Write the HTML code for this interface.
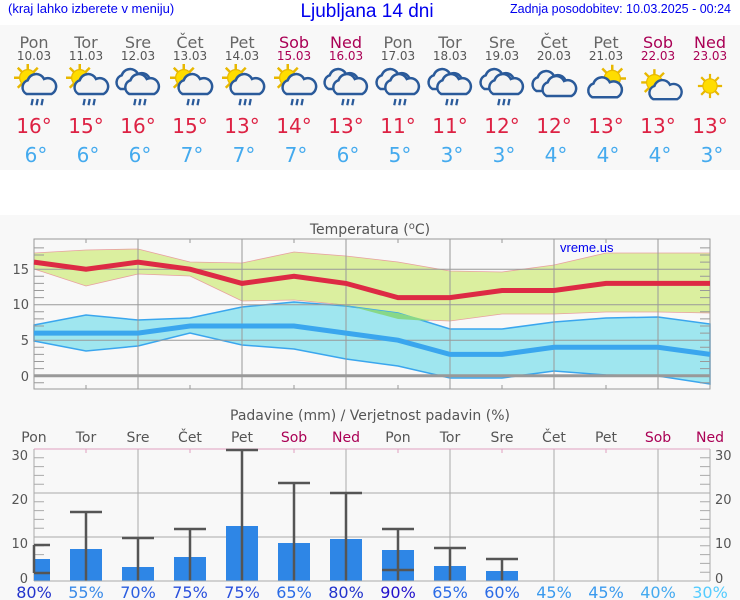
<!DOCTYPE html>
<html><head><meta charset="utf-8"><style>
body{margin:0;width:740px;height:600px;background:#f8f8f8;overflow:hidden;font-family:"DejaVu Sans","Liberation Sans",sans-serif}
svg{display:block}
</style></head><body>
<svg width="740" height="600" viewBox="0 0 740 600" xmlns="http://www.w3.org/2000/svg" font-family="DejaVu Sans, Liberation Sans, sans-serif">
<defs>
<g id="sun"><g stroke="#e8b800" stroke-width="2"><line x1="-11" y1="0" x2="11" y2="0"/><line x1="0" y1="-11" x2="0" y2="11"/><line x1="-8" y1="-8" x2="8" y2="8"/><line x1="-8" y1="8" x2="8" y2="-8"/></g><circle r="6.5" fill="#ffdd00" stroke="#e8b800"/></g>
<g id="cloud"><path d="M-10 6 a6 6 0 0 1 1-11 a7 7 0 0 1 13-1 a6 6 0 0 1 6 12 z" fill="#f4f4f4" stroke="#2a5a9a" stroke-width="2"/></g>
<g id="rain" stroke="#2a5a9a" stroke-width="1.8"><line x1="-3" y1="9" x2="-4" y2="14"/><line x1="1" y1="9" x2="0" y2="14"/><line x1="5" y1="9" x2="4" y2="14"/></g>
<g id="sunrain" transform="scale(1.25)"><use href="#sun" x="-5" y="-5"/><use href="#cloud" x="4" y="2"/><use href="#rain" x="2" y="3"/></g>
<g id="cloudrain" transform="scale(1.25)"><use href="#cloud" x="-4" y="-2"/><use href="#cloud" x="3" y="2"/><use href="#rain" x="1" y="3"/></g>
</defs>
<rect x="0" y="0" width="740" height="25" fill="#fff"/>
<rect x="0" y="170" width="740" height="45" fill="#fff"/>
<text x="8" y="13" font-family="Liberation Sans, sans-serif" font-size="13" fill="#0000ee">(kraj lahko izberete v meniju)</text>
<text x="367" y="17" font-family="Liberation Sans, sans-serif" font-size="19" fill="#0000ee" text-anchor="middle">Ljubljana 14 dni</text>
<text x="731" y="13" font-family="Liberation Sans, sans-serif" font-size="12.5" fill="#0000ee" text-anchor="end">Zadnja posodobitev: 10.03.2025 - 00:24</text>
<g font-size="16" fill="#666" text-anchor="middle">
<text x="34" y="48">Pon</text><text x="86" y="48">Tor</text><text x="138" y="48">Sre</text><text x="190" y="48">Čet</text><text x="242" y="48">Pet</text><text x="294" y="48" fill="#aa0055">Sob</text><text x="346" y="48" fill="#aa0055">Ned</text><text x="398" y="48">Pon</text><text x="450" y="48">Tor</text><text x="502" y="48">Sre</text><text x="554" y="48">Čet</text><text x="606" y="48">Pet</text><text x="658" y="48" fill="#aa0055">Sob</text><text x="710" y="48" fill="#aa0055">Ned</text>
</g>
<g font-size="12" fill="#555" text-anchor="middle">
<text x="34" y="60">10.03</text><text x="86" y="60">11.03</text><text x="138" y="60">12.03</text><text x="190" y="60">13.03</text><text x="242" y="60">14.03</text><text x="294" y="60" fill="#aa0055">15.03</text><text x="346" y="60" fill="#aa0055">16.03</text><text x="398" y="60">17.03</text><text x="450" y="60">18.03</text><text x="502" y="60">19.03</text><text x="554" y="60">20.03</text><text x="606" y="60">21.03</text><text x="658" y="60" fill="#aa0055">22.03</text><text x="710" y="60" fill="#aa0055">23.03</text>
</g>
<use href="#sunrain" x="34" y="84"/>
<use href="#sunrain" x="86" y="84"/>
<use href="#cloudrain" x="138" y="84"/>
<use href="#sunrain" x="190" y="84"/>
<use href="#sunrain" x="242" y="84"/>
<use href="#sunrain" x="294" y="84"/>
<use href="#cloudrain" x="346" y="84"/>
<use href="#cloudrain" x="398" y="84"/>
<use href="#cloudrain" x="450" y="84"/>
<use href="#cloudrain" x="502" y="84"/>
<g transform="translate(554,86) scale(1.25)"><use href="#cloud" x="-4" y="-2"/><use href="#cloud" x="4" y="2"/></g>
<g transform="translate(606,86) scale(1.25)"><use href="#sun" x="5" y="-6"/><use href="#cloud" x="-1" y="3"/></g>
<g transform="translate(658,86) scale(1.2)"><use href="#sun" x="-3" y="-3"/><use href="#cloud" x="6" y="5"/></g>
<g transform="translate(710,86) scale(1.1)"><use href="#sun"/></g>
<g font-size="20" fill="#dd2244" text-anchor="middle">
<text x="34" y="133">16°</text><text x="86" y="133">15°</text><text x="138" y="133">16°</text><text x="190" y="133">15°</text><text x="242" y="133">13°</text><text x="294" y="133">14°</text><text x="346" y="133">13°</text><text x="398" y="133">11°</text><text x="450" y="133">11°</text><text x="502" y="133">12°</text><text x="554" y="133">12°</text><text x="606" y="133">13°</text><text x="658" y="133">13°</text><text x="710" y="133">13°</text>
</g>
<g font-size="20" fill="#44aaee" text-anchor="middle">
<text x="36" y="162">6°</text><text x="88" y="162">6°</text><text x="140" y="162">6°</text><text x="192" y="162">7°</text><text x="244" y="162">7°</text><text x="296" y="162">7°</text><text x="348" y="162">6°</text><text x="400" y="162">5°</text><text x="452" y="162">3°</text><text x="504" y="162">3°</text><text x="556" y="162">4°</text><text x="608" y="162">4°</text><text x="660" y="162">4°</text><text x="712" y="162">3°</text>
</g>

<text x="370" y="234" font-size="14" fill="#555" text-anchor="middle">Temperatura (<tspan dy="-5" font-size="10">o</tspan><tspan dy="5">C)</tspan></text>
<polygon fill="#dbef9f" stroke="#e8a0a0" stroke-width="0.8" points="34,253 86,250 138,249 190,262 242,263 294,252 346,256 398,262 450,271 502,272 554,265 606,253 658,253 710,253 710,313 658,312 606,312 554,314 502,314 450,321 398,319 346,305 294,300 242,301 190,276 138,274 86,286 34,269"/>
<polygon fill="#9fe6ef" stroke="#3aa6ee" stroke-width="1.5" points="34,325 86,315 138,320 190,318 242,307 294,302 346,306 398,313 450,329 502,329 554,322 606,318 658,317 710,324 710,384 658,376 606,375 554,371 502,378 450,378 398,366 346,359 294,349 242,345 190,333 138,346 86,351 34,341"/>
<polygon fill="#88d888" points="330,303 346,306 398,313 430,321 398,319 346,305"/>
<g stroke="#999" stroke-width="1" fill="none">
<rect x="34" y="239" width="676" height="150"/>
<line x1="34" y1="269.2" x2="710" y2="269.2"/><line x1="34" y1="304.7" x2="710" y2="304.7"/><line x1="34" y1="340.2" x2="710" y2="340.2"/>
<line x1="138" y1="239" x2="138" y2="389"/><line x1="242" y1="239" x2="242" y2="389"/><line x1="346" y1="239" x2="346" y2="389"/><line x1="450" y1="239" x2="450" y2="389"/><line x1="554" y1="239" x2="554" y2="389"/><line x1="658" y1="239" x2="658" y2="389"/>
<path d="M86 239v4M190 239v4M294 239v4M398 239v4M502 239v4M606 239v4M86 389v-4M190 389v-4M294 389v-4M398 389v-4M502 389v-4M606 389v-4"/>
<path d="M34 382.8h10M34 368.6h10M34 361.5h10M34 354.4h10M34 347.3h10M34 333.1h10M34 326h10M34 318.9h10M34 311.8h10M34 297.6h10M34 290.5h10M34 283.4h10M34 276.3h10M34 262.1h10M34 255h10M34 247.9h10"/>
<path d="M710 382.8h-10M710 368.6h-10M710 361.5h-10M710 354.4h-10M710 347.3h-10M710 333.1h-10M710 326h-10M710 318.9h-10M710 311.8h-10M710 297.6h-10M710 290.5h-10M710 283.4h-10M710 276.3h-10M710 262.1h-10M710 255h-10M710 247.9h-10"/>
</g>
<line x1="34" y1="375.7" x2="710" y2="375.7" stroke="#999" stroke-width="3"/>
<polyline fill="none" stroke="#dd2a44" stroke-width="5" points="34,262.1 86,269.2 138,262.1 190,269.2 242,283.4 294,276.3 346,283.4 398,297.6 450,297.6 502,290.5 554,290.5 606,283.4 658,283.4 710,283.4"/>
<polyline fill="none" stroke="#3aa6ee" stroke-width="5" points="34,333.1 86,333.1 138,333.1 190,326 242,326 294,326 346,333.1 398,340.2 450,354.4 502,354.4 554,347.3 606,347.3 658,347.3 710,354.4"/>
<text x="560" y="252" font-family="Liberation Sans, sans-serif" font-size="13" fill="#0000ee">vreme.us</text>
<g font-size="13" fill="#555" text-anchor="end">
<text x="29" y="274">15</text><text x="29" y="309">10</text><text x="29" y="345">5</text><text x="29" y="381">0</text>
</g>

<text x="370" y="420" font-size="14" fill="#555" text-anchor="middle">Padavine (mm) / Verjetnost padavin (%)</text>
<g font-size="14" fill="#555" text-anchor="middle">
<text x="34" y="442">Pon</text><text x="86" y="442">Tor</text><text x="138" y="442">Sre</text><text x="190" y="442">Čet</text><text x="242" y="442">Pet</text><text x="294" y="442" fill="#aa0055">Sob</text><text x="346" y="442" fill="#aa0055">Ned</text><text x="398" y="442">Pon</text><text x="450" y="442">Tor</text><text x="502" y="442">Sre</text><text x="554" y="442">Čet</text><text x="606" y="442">Pet</text><text x="658" y="442" fill="#aa0055">Sob</text><text x="710" y="442" fill="#aa0055">Ned</text>
</g>
<g stroke="#aaa" stroke-width="1" fill="none">
<line x1="34" y1="449" x2="34" y2="581"/><line x1="710" y1="449" x2="710" y2="581"/>
<line x1="34" y1="537" x2="710" y2="537"/><line x1="34" y1="493" x2="710" y2="493"/>
<line x1="138" y1="449" x2="138" y2="581"/><line x1="242" y1="449" x2="242" y2="581"/><line x1="346" y1="449" x2="346" y2="581"/><line x1="450" y1="449" x2="450" y2="581"/><line x1="554" y1="449" x2="554" y2="581"/><line x1="658" y1="449" x2="658" y2="581"/>
<path d="M34 572.2h10M34 563.4h10M34 554.6h10M34 545.8h10M34 528.2h10M34 519.4h10M34 510.6h10M34 501.8h10M34 484.2h10M34 475.4h10M34 466.6h10M34 457.8h10"/>
<path d="M710 572.2h-10M710 563.4h-10M710 554.6h-10M710 545.8h-10M710 528.2h-10M710 519.4h-10M710 510.6h-10M710 501.8h-10M710 484.2h-10M710 475.4h-10M710 466.6h-10M710 457.8h-10"/>
</g>
<line x1="34" y1="449" x2="710" y2="449" stroke="#e0a0c0" stroke-width="1"/>
<path d="M86 449v4M190 449v4M294 449v4M398 449v4M502 449v4M606 449v4" stroke="#e0a0c0"/>
<g fill="#2e86e6">
<rect x="34" y="559" width="16" height="22"/>
<rect x="70" y="549" width="32" height="32"/>
<rect x="122" y="567" width="32" height="14"/>
<rect x="174" y="557" width="32" height="24"/>
<rect x="226" y="526" width="32" height="55"/>
<rect x="278" y="543" width="32" height="38"/>
<rect x="330" y="539" width="32" height="42"/>
<rect x="382" y="550" width="32" height="31"/>
<rect x="434" y="566" width="32" height="15"/>
<rect x="486" y="571" width="32" height="10"/>
</g>
<g stroke="#555" stroke-width="2.5" fill="none">
<path d="M34 545v28M34 545h16M34 573h16"/>
<path d="M86 512v69M70 512h32"/>
<path d="M138 538v43M122 538h32"/>
<path d="M190 529v52M174 529h32"/>
<path d="M242 450v131M226 450h32"/>
<path d="M294 483v98M278 483h32"/>
<path d="M346 493v88M330 493h32"/>
<path d="M398 529v52M382 529h32M382 570h32"/>
<path d="M450 548v33M434 548h32"/>
<path d="M502 559v22M486 559h32"/>
</g>
<line x1="34" y1="581" x2="710" y2="581" stroke="#aaa"/>
<g font-size="13" fill="#555">
<text x="28" y="460" text-anchor="end">30</text><text x="28" y="504" text-anchor="end">20</text><text x="28" y="548" text-anchor="end">10</text><text x="28" y="583" text-anchor="end">0</text>
<text x="715" y="460">30</text><text x="715" y="504">20</text><text x="715" y="548">10</text><text x="715" y="583">0</text>
</g>
<g font-size="16" text-anchor="middle">
<text x="34" y="598" fill="#2233cc">80%</text><text x="86" y="598" fill="#3a8ae8">55%</text><text x="138" y="598" fill="#2a5ee0">70%</text><text x="190" y="598" fill="#2a50dd">75%</text><text x="242" y="598" fill="#2a50dd">75%</text><text x="294" y="598" fill="#2a6be6">65%</text><text x="346" y="598" fill="#2233cc">80%</text><text x="398" y="598" fill="#2211cc">90%</text><text x="450" y="598" fill="#2a6be6">65%</text><text x="502" y="598" fill="#2a6be6">60%</text><text x="554" y="598" fill="#3a9aee">45%</text><text x="606" y="598" fill="#3a9aee">45%</text><text x="658" y="598" fill="#44aaf0">40%</text><text x="710" y="598" fill="#55ccff">30%</text>
</g>
</svg>
</body></html>
